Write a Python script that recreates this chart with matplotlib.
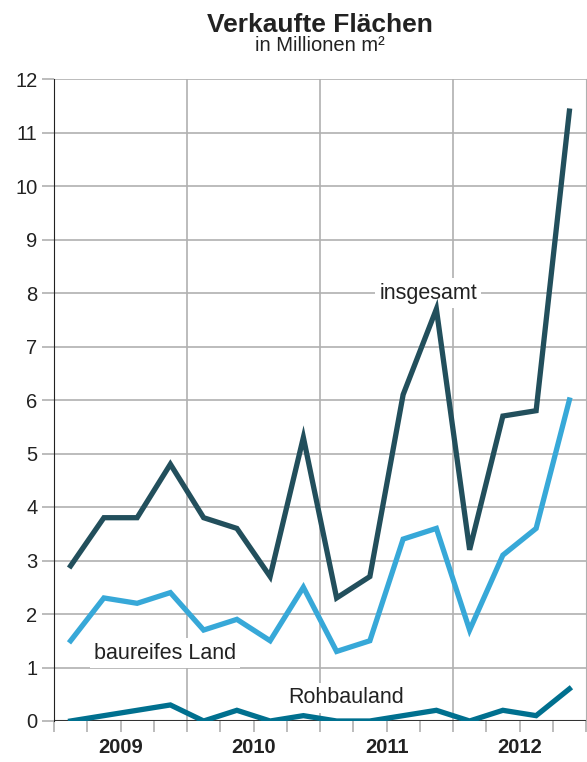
import matplotlib.pyplot as plt
import numpy as np

plt.rcParams['font.family'] = ['Liberation Sans', 'DejaVu Sans']

years = ['2009', '2010', '2011', '2012']
insgesamt = [2.9, 3.8, 3.8, 4.8, 3.8, 3.6, 2.7, 5.3, 2.3, 2.7, 6.1, 7.7, 3.2, 5.7, 5.8, 11.4]
baureif = [1.5, 2.3, 2.2, 2.4, 1.7, 1.9, 1.5, 2.5, 1.3, 1.5, 3.4, 3.6, 1.7, 3.1, 3.6, 6.0]
rohbau = [0.0, 0.1, 0.2, 0.3, 0.0, 0.2, 0.0, 0.1, 0.0, 0.0, 0.1, 0.2, 0.0, 0.2, 0.1, 0.6]

c_ges = '#224f5c'
c_bau = '#37a8d8'
c_roh = '#00708f'
txt = '#222222'
grid = '#b0b0b0'

x = np.arange(len(insgesamt)) + 0.5

fig = plt.figure(figsize=(5.87, 7.62), dpi=100)
ax = fig.add_axes([54/587, 1-721/762, 532/587, 642/762])

ax.set_xlim(0, 16)
ax.set_ylim(0, 12)

for yv in range(1, 13):
    ax.axhline(yv, color=grid, lw=1.2, zorder=1)
for xv in [4, 8, 12]:
    ax.axvline(xv, color=grid, lw=1.2, zorder=1)

ax.plot(x, insgesamt, color=c_ges, lw=3.8, zorder=3, solid_joinstyle='miter')
ax.plot(x, baureif, color=c_bau, lw=3.8, zorder=3, solid_joinstyle='miter')
ax.plot(x, rohbau, color=c_roh, lw=3.8, zorder=3, solid_joinstyle='miter')
ax.axhline(0, color='#333333', lw=1.5, zorder=2)

box = dict(facecolor='white', edgecolor='none', pad=3)
ax.text(11.25, 8.0, 'insgesamt', fontsize=15.5, color=txt, ha='center', va='center', bbox=box, zorder=2)
ax.text(3.34, 1.27, 'baureifes Land', fontsize=15.5, color=txt, ha='center', va='center', bbox=box, zorder=2)
ax.text(8.78, 0.43, 'Rohbauland', fontsize=15.5, color=txt, ha='center', va='center', bbox=box, zorder=2)

ax.set_yticks(range(0, 13))
ax.tick_params(axis='y', length=9, width=1.2, color=grid, labelsize=14.5, labelcolor=txt, pad=3)
ax.set_xticks(range(0, 17))
ax.set_xticklabels([])
ax.tick_params(axis='x', length=8, width=1.2, color=grid)
for i, yr in enumerate(years):
    ax.text(4*i + 2, -0.5, yr, fontsize=14.5, fontweight='bold', color=txt, ha='center', va='center')

ax.spines['top'].set_visible(False)
ax.spines['left'].set_color('#222222')
ax.spines['right'].set_color(grid)
ax.spines['bottom'].set_visible(False)

fig.text(320/587, 1-32/762, 'Verkaufte Flächen', fontsize=19, fontweight='bold', color=txt, ha='center', va='baseline')
fig.text(320/587, 1-51/762, 'in Millionen m²', fontsize=14.5, color=txt, ha='center', va='baseline')

fig.savefig('out.png', dpi=100)
